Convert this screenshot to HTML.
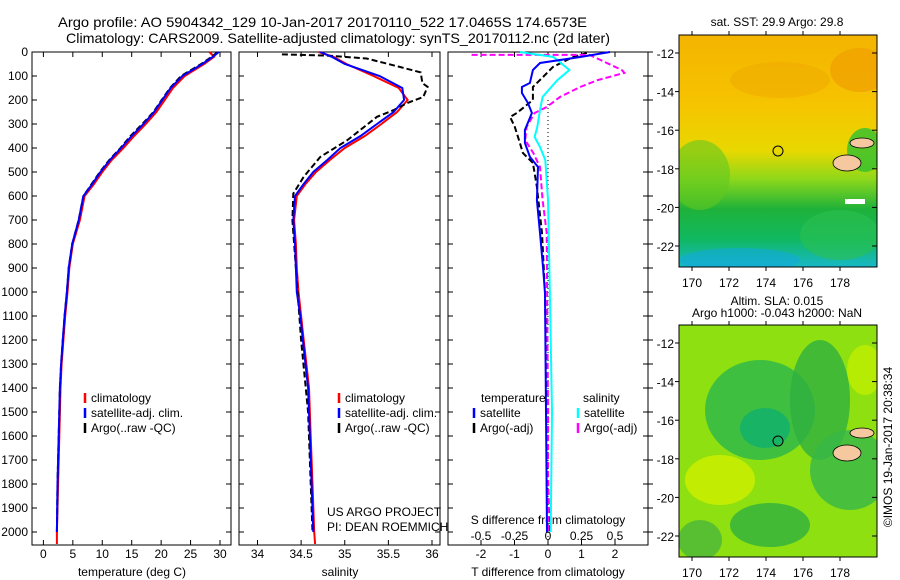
<!DOCTYPE html>
<html><head><meta charset="utf-8"><style>
html,body{margin:0;padding:0;background:#fff;}
svg{display:block;font-family:"Liberation Sans",sans-serif;font-size:12px;}
</style></head><body>
<svg id="fig" width="900" height="580" viewBox="0 0 900 580" xmlns="http://www.w3.org/2000/svg">
<defs>
<linearGradient id="sstg" x1="0" y1="0" x2="0" y2="1">
<stop offset="0" stop-color="#f4b400"/><stop offset="0.3" stop-color="#f6c400"/><stop offset="0.5" stop-color="#e8d800"/><stop offset="0.62" stop-color="#8ed81a"/><stop offset="0.75" stop-color="#1fb23a"/><stop offset="0.88" stop-color="#10b860"/><stop offset="1" stop-color="#18b8c8"/>
</linearGradient>
<clipPath id="m1c"><rect x="679" y="35" width="198" height="232"/></clipPath>
<clipPath id="m2c"><rect x="679" y="325" width="198" height="232"/></clipPath>
</defs>
<g>
<text x="58" y="27" textLength="529" lengthAdjust="spacingAndGlyphs" style="font-size:14px">Argo profile: AO 5904342_129 10-Jan-2017 20170110_522 17.0465S 174.6573E</text>
<text x="66" y="43" textLength="544" lengthAdjust="spacingAndGlyphs" style="font-size:14px">Climatology: CARS2009. Satellite-adjusted climatology: synTS_20170112.nc (2d later)</text>
</g>
<g id="p1"></g>
<g id="p2"></g>
<g id="p3"></g>

<g>
<g clip-path="url(#m1c)">
<rect x="679" y="35" width="198" height="232" fill="url(#sstg)"/>
<ellipse cx="860" cy="70" rx="30" ry="22" fill="#ee9a00" opacity="0.6"/>
<ellipse cx="780" cy="80" rx="50" ry="18" fill="#f0a800" opacity="0.5"/>
<ellipse cx="700" cy="175" rx="30" ry="35" fill="#60c820" opacity="0.6"/>
<ellipse cx="840" cy="235" rx="40" ry="25" fill="#2cc050" opacity="0.6"/>
<ellipse cx="740" cy="260" rx="60" ry="12" fill="#10a8d8" opacity="0.6"/>
<ellipse cx="865" cy="150" rx="18" ry="22" fill="#30c030" opacity="0.8"/>
<ellipse cx="847" cy="163" rx="14" ry="8" fill="#f5c8a0" stroke="#000" stroke-width="0.8"/>
<ellipse cx="862" cy="143" rx="12" ry="5" fill="#f5c8a0" stroke="#000" stroke-width="0.8"/>
<rect x="845" y="199" width="20" height="5" fill="#fff"/>
</g>
<rect x="679" y="35" width="198" height="232" fill="none" stroke="#000"/>
<circle cx="778" cy="151" r="5" fill="none" stroke="#000"/>
<text x="777" y="26" text-anchor="middle">sat. SST: 29.9 Argo: 29.8</text>
</g>
<g>
<g clip-path="url(#m2c)">
<rect x="679" y="325" width="198" height="232" fill="#8ee010"/>
<ellipse cx="760" cy="410" rx="55" ry="50" fill="#30b848" opacity="0.85"/>
<ellipse cx="765" cy="428" rx="25" ry="20" fill="#10b070" opacity="0.8"/>
<ellipse cx="820" cy="400" rx="30" ry="60" fill="#30b040" opacity="0.8"/>
<ellipse cx="850" cy="470" rx="40" ry="40" fill="#38b848" opacity="0.8"/>
<ellipse cx="770" cy="525" rx="40" ry="22" fill="#30b040" opacity="0.8"/>
<ellipse cx="720" cy="480" rx="35" ry="25" fill="#d0f000" opacity="0.8"/>
<ellipse cx="865" cy="370" rx="18" ry="25" fill="#c8f000" opacity="0.7"/>
<ellipse cx="700" cy="540" rx="22" ry="20" fill="#40b040" opacity="0.7"/>
<ellipse cx="847" cy="453" rx="14" ry="8" fill="#f5c8a0" stroke="#000" stroke-width="0.8"/>
<ellipse cx="862" cy="433" rx="12" ry="5" fill="#f5c8a0" stroke="#000" stroke-width="0.8"/>
</g>
<rect x="679" y="325" width="198" height="232" fill="none" stroke="#000"/>
<circle cx="778" cy="441" r="5" fill="none" stroke="#000"/>
<text x="777" y="305" text-anchor="middle">Altim. SLA: 0.015</text>
<text x="777" y="317" text-anchor="middle">Argo h1000: -0.043 h2000: NaN</text>
</g>
<g id="maxes"></g>
<text transform="translate(892,447) rotate(-90)" text-anchor="middle">©IMOS 19-Jan-2017 20:38:34</text>
<text x="327" y="516">US ARGO PROJECT</text>
<text x="327" y="531">PI: DEAN ROEMMICH</text>
</svg>
<script>
// ---- data ----
const depthTicks=[0,100,200,300,400,500,600,700,800,900,1000,1100,1200,1300,1400,1500,1600,1700,1800,1900,2000];
const tTicks=[0,5,10,15,20,25,30];
const sTicks=[34,34.5,35,35.5,36];
const dTTicks=[-2,-1,0,1,2];
const dSTicks=[-0.5,-0.25,0,0.25,0.5];
const dSTickLabels=["-0.5","-0.25","0","0.25","0.5"];
const depth=[0,20,50,100,150,200,250,300,350,400,450,500,550,600,700,800,900,1000,1100,1200,1300,1400,1600,1800,2000,2050];
const tClim=[28.2,29,27.3,24,22,20.6,19.2,17.4,15.4,13.6,11.6,10,8.6,7,6.2,5,4.4,4.1,3.7,3.4,3.1,2.9,2.7,2.5,2.3,2.3];
const tSat=[29.8,28.8,27,23.6,21.6,20.2,18.8,17,15,13.2,11.3,9.7,8.3,6.8,6.0,4.9,4.3,4.0,3.6,3.3,3.0,2.8,2.6,2.4,2.3,2.3];
const tArgo=[29.6,28.6,26.8,23.4,21.5,20.1,18.7,16.8,14.8,13.1,11.2,9.6,8.2,6.8,6.0,4.9,4.3,4.0,3.6,3.3,3.0,2.8,2.6,2.4,2.3,2.3];
const sClim=[34.7,34.87,35.02,35.33,35.62,35.72,35.6,35.42,35.23,35.0,34.83,34.67,34.55,34.45,34.42,34.44,34.45,34.47,34.5,34.53,34.56,34.59,34.61,34.63,34.65,34.66];
const sSat=[34.72,34.85,35.0,35.4,35.66,35.68,35.56,35.37,35.18,34.95,34.8,34.64,34.53,34.43,34.41,34.43,34.44,34.45,34.49,34.52,34.55,34.58,34.6,34.62,34.64,34.64];
const sArgoDepth=[10,15,27,62,85,130,145,187,212,242,270,367,437,520,590,700,900,1200,1500,2000];
const sArgo=[34.28,34.8,35.25,35.63,35.87,35.89,35.95,35.9,35.72,35.56,35.37,35.03,34.72,34.53,34.41,34.4,34.44,34.5,34.58,34.63];
const dTSatDepth=[0,21,46,75,129,146,171,212,254,325,379,437,479,617,754,896,1004,1500,2000];
const dTSat=[1.85,0.96,-0.24,-0.45,-0.54,-0.78,-0.78,-0.6,-0.48,-0.69,-0.69,-0.54,-0.3,-0.33,-0.24,-0.15,-0.09,-0.06,-0.03];
const dTArgoDepth=[4,21,62,104,146,200,254,271,312,379,421,462,562,754,1004,1500,2000];
const dTArgo=[1.16,0.75,0.15,-0.15,-0.45,-0.45,-0.93,-1.13,-0.99,-0.84,-0.75,-0.45,-0.33,-0.18,-0.09,-0.03,0.03];
const dSSatDepth=[0,21,75,117,187,242,312,354,396,450,617,1033,1500,2000];
const dSSat=[-0.21,0.04,0.16,0.07,-0.04,-0.06,-0.08,-0.1,-0.06,-0.02,0,0.015,0.03,0.02];
const dSArgoDepth=[12,12,33,75,87,117,146,187,229,254,312,367,421,479,617,754,1500,2000];
const dSArgo=[-0.57,0.31,0.39,0.55,0.57,0.37,0.24,0.09,-0.01,-0.1,-0.16,-0.17,-0.11,-0.06,-0.04,-0.01,0,0];
const latTicks=[-12,-14,-16,-18,-20,-22];
const lonTicks=[170,172,174,176,178];

// ---- helpers ----
const NS="http://www.w3.org/2000/svg";
function mk(tag,parent,attrs){const e=document.createElementNS(NS,tag);for(const k in attrs)e.setAttribute(k,attrs[k]);parent.appendChild(e);return e;}
const yTop=52,yBot=545;
const yD=d=>yTop+d*0.24;
function lin(d0,d1,r0,r1){return v=>r0+(v-d0)*(r1-r0)/(d1-d0);}
function line(g,xs,ds,xf,color,dash,name,w){
  const pts=xs.map((v,i)=>xf(v).toFixed(1)+","+yD(ds[i]).toFixed(1)).join(" ");
  const p=mk("polyline",g,{points:pts,fill:"none",stroke:color,"stroke-width":w||2});
  if(dash)p.setAttribute("stroke-dasharray",dash);
  
  
}
function frame(g,x0,x1,name){
  const r=mk("rect",g,{x:x0,y:yTop,width:x1-x0,height:yBot-yTop,fill:"none",stroke:"#000"});
  
  
  depthTicks.forEach(d=>{mk("line",g,{x1:x0,x2:x0+5,y1:yD(d),y2:yD(d),stroke:"#000"});mk("line",g,{x1:x1,x2:x1-5,y1:yD(d),y2:yD(d),stroke:"#000"});});
}
function xticks(g,ticks,labels,xf,ly){
  ticks.forEach((t,i)=>{
    mk("line",g,{x1:xf(t),x2:xf(t),y1:yBot,y2:yBot-5,stroke:"#000"});
    mk("line",g,{x1:xf(t),x2:xf(t),y1:yTop,y2:yTop+5,stroke:"#000"});
    const tx=mk("text",g,{x:xf(t),y:ly,"text-anchor":"middle"});tx.textContent=labels[i];
    
    
  });
}
function label(g,x,y,txt,name,anchor){const t=mk("text",g,{x:x,y:y,"text-anchor":anchor||"start"});t.textContent=txt;}
function legend(g,x,y,color,txt){mk("line",g,{x1:x,x2:x,y1:y-9,y2:y+1,stroke:color,"stroke-width":2.5});label(g,x+6,y,txt,'legend-entry');}

// ---- panel 1 ----
const g1=document.getElementById("p1");
const xT=lin(0,30,43.4,220);
frame(g1,32,231,'temperature-frame');
depthTicks.forEach(d=>label(g1,28,yD(d)+4,String(d),'y-tick-label','end'));
xticks(g1,tTicks,tTicks.map(String),xT,558);
label(g1,132,576,"temperature (deg C)",'x-axis-title','middle');
line(g1,tClim,depth,xT,"#f00",null,'temp-climatology-line');
line(g1,tArgo.slice(0,25),depth.slice(0,25),xT,"#000","6,3",'temp-argo-line');
line(g1,tSat.slice(0,25),depth.slice(0,25),xT,"#00f",null,'temp-satellite-line');
legend(g1,85,402,"#f00","climatology");legend(g1,85,417,"#00f","satellite-adj. clim.");legend(g1,85,432,"#000","Argo(..raw -QC)");

// ---- panel 2 ----
const g2=document.getElementById("p2");
const xS=lin(34,36,257.5,432);
frame(g2,239,440,'salinity-frame');
xticks(g2,sTicks,["34","34.5","35","35.5","36"],xS,558);
label(g2,340,576,"salinity",'x-axis-title','middle');
line(g2,sClim,depth,xS,"#f00",null,'sal-climatology-line');
line(g2,sArgo,sArgoDepth,xS,"#000","6,3",'sal-argo-line');
line(g2,sSat.slice(0,25),depth.slice(0,25),xS,"#00f",null,'sal-satellite-line');
legend(g2,339,402,"#f00","climatology");legend(g2,339,417,"#00f","satellite-adj. clim.");legend(g2,339,432,"#000","Argo(..raw -QC)");

// ---- panel 3 ----
const g3=document.getElementById("p3");
const xdT=lin(-2,2,481,615);
const xdS=lin(-0.5,0.5,481,615);
frame(g3,448,648,'difference-frame');
depthTicks.forEach(d=>mk("line",g3,{x1:648,x2:653,y1:yD(d),y2:yD(d),stroke:"#000"}));
xticks(g3,dTTicks,dTTicks.map(String),xdT,558);
dSTicks.forEach((t,i)=>label(g3,xdS(t),540,dSTickLabels[i],'s-tick-label','middle'));
label(g3,548,524,"S difference from climatology",'s-axis-title','middle');
label(g3,548,576,"T difference from climatology",'x-axis-title','middle');
const zl=mk("line",g3,{x1:xdT(0),x2:xdT(0),y1:yD(200),y2:yBot,stroke:"#000","stroke-dasharray":"1,3"});


line(g3,dTArgo,dTArgoDepth,xdT,"#000","6,3",'dT-argo-line');
line(g3,dSArgo,dSArgoDepth,xdS,"#f0f","6,3",'dS-argo-line');
line(g3,dSSat,dSSatDepth,xdS,"#0ff",null,'dS-satellite-line');
line(g3,dTSat,dTSatDepth,xdT,"#00f",null,'dT-satellite-line');
label(g3,481,402,"temperature",'legend-heading');label(g3,583,402,"salinity",'legend-heading');
legend(g3,474,417,"#00f","satellite");legend(g3,474,432,"#000","Argo(-adj)");
legend(g3,578,417,"#0ff","satellite");legend(g3,578,432,"#f0f","Argo(-adj)");

// ---- map axes ----
const gm=document.getElementById("maxes");
const xLon=lin(170,178,692,840);
[0,290].forEach(off=>{
  const yLat=lin(-12,-22,53+off,246+off);
  latTicks.forEach(l=>{
    mk("line",gm,{x1:877,x2:872,y1:yLat(l),y2:yLat(l),stroke:"#000"});
    mk("line",gm,{x1:679,x2:675,y1:yLat(l),y2:yLat(l),stroke:"#000"});
    label(gm,674,yLat(l)+5,String(l),'lat-tick-label','end');
  });
  lonTicks.forEach(l=>{
    mk("line",gm,{x1:xLon(l),x2:xLon(l),y1:35+off,y2:31+off,stroke:"#000"});
    mk("line",gm,{x1:xLon(l),x2:xLon(l),y1:267+off,y2:271+off,stroke:"#000"});
    label(gm,xLon(l),287+off,String(l),'lon-tick-label','middle');
  });
});
</script>
</body></html>
